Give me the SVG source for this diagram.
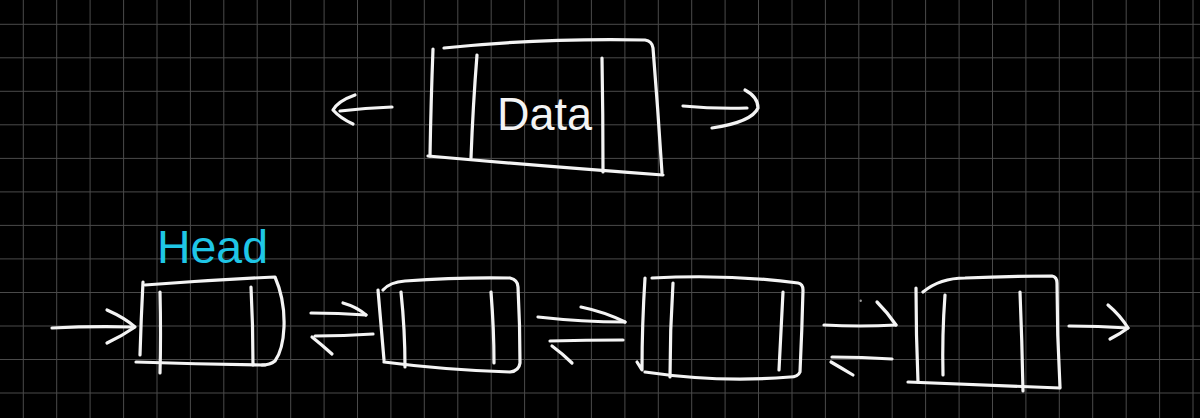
<svg xmlns="http://www.w3.org/2000/svg" width="1200" height="418" viewBox="0 0 1200 418">
<style>
.grid{stroke:#4a4a4a;stroke-width:1;fill:none}
.ink{stroke:#f4f4f4;stroke-width:3.2;fill:none;stroke-linecap:round;stroke-linejoin:round}
.lbl{fill:#f4f4f4;font-family:"Liberation Sans",Arial,sans-serif}
.head{fill:#1fc6e6;font-family:"Liberation Sans",Arial,sans-serif}
</style>
<rect x="0" y="0" width="1200" height="418" fill="#000"/>
<g id="grid" class="grid">
<path d="M23.3 0V418M56.7 0V418M90.1 0V418M123.6 0V418M157 0V418M190.4 0V418M223.8 0V418M257.2 0V418M290.7 0V418M324.1 0V418M357.5 0V418M390.9 0V418M424.3 0V418M457.8 0V418M491.2 0V418M524.6 0V418M558 0V418M591.4 0V418M624.9 0V418M658.3 0V418M691.7 0V418M725.1 0V418M758.5 0V418M792 0V418M825.4 0V418M858.8 0V418M892.2 0V418M925.6 0V418M959.1 0V418M992.5 0V418M1025.9 0V418M1059.3 0V418M1092.7 0V418M1126.2 0V418M1159.6 0V418M1193 0V418"/>
<path d="M0 24.3H1200M0 57.8H1200M0 91.3H1200M0 124.8H1200M0 158.4H1200M0 191.9H1200M0 225.4H1200M0 258.9H1200M0 292.5H1200M0 326H1200M0 359.5H1200M0 393H1200"/>
</g>
<circle cx="860.7" cy="300.7" r="1.2" fill="#9a9a9a"/>
<g id="data-node">
<path class="ink" d="M433 49 Q431 100 430 156"/>
<path class="ink" d="M444 48 Q540 38 645 40 Q652 41 653 48 Q658 110 662 173"/>
<path class="ink" d="M428 156 Q540 166 663 175"/>
<path class="ink" d="M477 55 Q473 105 471 158"/>
<path class="ink" d="M602 58 Q603 115 603 172"/>
<text class="lbl" x="497" y="130" font-size="46" textLength="95" lengthAdjust="spacingAndGlyphs">Data</text>
</g>
<g id="node1">
<text class="head" x="157" y="263" font-size="46" textLength="111" lengthAdjust="spacingAndGlyphs">Head</text>
<path class="ink" d="M143 282 Q141 320 140 355"/>
<path class="ink" d="M145 285 Q210 280 275 277 Q285 300 284 327 Q283 350 275 361 Q270 365 262 365"/>
<path class="ink" d="M136 362 Q200 364 265 365"/>
<path class="ink" d="M160 292 Q161 335 160 373"/>
<path class="ink" d="M251 287 Q253 325 253 365"/>
</g>
<g id="node2">
<path class="ink" d="M378 290 Q381 325 384 360"/>
<path class="ink" d="M383 290 Q390 282 405 281 Q460 277 510 278 Q518 280 518 287 Q520 325 520 363 Q519 371 510 372 Q445 370 384 362"/>
<path class="ink" d="M401 292 Q405 330 405 367"/>
<path class="ink" d="M491 292 Q494 330 494 363"/>
</g>
<g id="node3">
<path class="ink" d="M645 278 Q642 325 642 370 L637 362"/>
<path class="ink" d="M652 278 Q730 274 798 283 Q803 284 803 290 Q802 330 800 372 Q798 377 790 377 Q720 383 645 372"/>
<path class="ink" d="M673 283 Q670 330 670 377"/>
<path class="ink" d="M783 292 Q781 330 779 370"/>
</g>
<g id="node4">
<path class="ink" d="M916 288 Q916 335 918 382"/>
<path class="ink" d="M923 292 Q940 278 965 278 Q1010 276 1052 276 Q1057 277 1057 283 Q1057 335 1060 387"/>
<path class="ink" d="M908 382 Q985 385 1060 388"/>
<path class="ink" d="M945 295 Q942 335 943 375"/>
<path class="ink" d="M1020 292 Q1022 340 1023 391"/>
</g>
<g id="connectors">
<path class="ink" d="M392 107 Q365 108 340 111"/>
<path class="ink" d="M355 95 Q338 101 333 110 Q340 118 353 124"/>
<path class="ink" d="M683 106 Q715 109 747 108"/>
<path class="ink" d="M745 90 Q758 97 758 108 Q752 122 712 128"/>
<path class="ink" d="M52 328 Q92 326 133 327"/>
<path class="ink" d="M107 310 Q125 318 135 327 Q122 336 107 343"/>
<path class="ink" d="M311 313 Q338 313 366 315"/>
<path class="ink" d="M343 303 Q357 307 366 315"/>
<path class="ink" d="M373 334 Q344 336 315 336"/>
<path class="ink" d="M312 337 Q322 345 332 354"/>
<path class="ink" d="M538 317 Q582 322 625 322"/>
<path class="ink" d="M581 307 Q605 312 625 322"/>
<path class="ink" d="M623 340 Q586 340 550 341"/>
<path class="ink" d="M552 346 Q563 354 572 363"/>
<path class="ink" d="M824 325 Q860 327 896 325"/>
<path class="ink" d="M877 302 Q888 313 896 325"/>
<path class="ink" d="M892 359 Q862 357 832 357"/>
<path class="ink" d="M831 362 Q843 369 853 375"/>
<path class="ink" d="M1069 326 Q1098 326 1128 328"/>
<path class="ink" d="M1108 305 Q1120 315 1128 328 Q1120 334 1110 339"/>
</g>
</svg>
